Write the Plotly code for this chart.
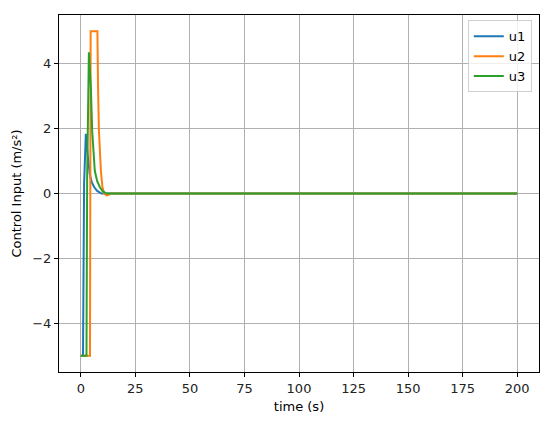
import plotly.graph_objects as go

# control inputs (transient, then flat zero up to 200 s)
t_u1 = [0, 1.0, 1.5, 1.9, 2.3, 3.1, 4.1, 5.0, 6.1, 7.5, 9.5, 200.0]
u1 = [-5, -5, 0.3, 1.5, 1.84, 1.22, 0.6, 0.35, 0.2, 0.08, 0.0, 0.0]

t_u2 = [0, 4.2, 4.5, 7.6, 7.9, 8.3, 9.2, 9.9, 10.7, 11.8, 13.0, 14.0, 200.0]
u2 = [-5, -5, 5, 5, 3.27, 1.94, 0.7, 0.2, 0.0, -0.06, -0.03, 0.0, 0.0]

t_u3 = [0, 2.6, 2.9, 3.3, 3.7, 4.6, 5.2, 6.4, 7.5, 8.7, 10.0, 11.8, 200.0]
u3 = [-5, -5, 0.5, 3.0, 4.35, 3.27, 1.94, 0.7, 0.38, 0.2, 0.07, 0.0, 0.0]

x_ticks = [0, 25, 50, 75, 100, 125, 150, 175, 200]
y_ticks = [-4, -2, 0, 2, 4]

fig = go.Figure()
fig.add_trace(go.Scatter(x=t_u1, y=u1, mode="lines", name="u1",
                         line=dict(color="#1f77b4", width=2)))
fig.add_trace(go.Scatter(x=t_u2, y=u2, mode="lines", name="u2",
                         line=dict(color="#ff7f0e", width=2)))
fig.add_trace(go.Scatter(x=t_u3, y=u3, mode="lines", name="u3",
                         line=dict(color="#2ca02c", width=2)))

axis_style = dict(
    showline=True, linecolor="black", linewidth=1, mirror=True,
    showgrid=True, gridcolor="#b0b0b0", gridwidth=1, zeroline=False,
    ticks="outside", ticklen=4, tickcolor="black", automargin=False,
    tickfont=dict(size=13, color="#222"),
)

# page body keeps an 8px margin, so the figure is 8px smaller each way
fig.update_layout(
    width=542, height=413,
    paper_bgcolor="white", plot_bgcolor="white",
    font=dict(family="DejaVu Sans", size=13, color="black"),
    margin=dict(l=51, r=11, t=7, b=49),
    xaxis=dict(range=[-10, 210], tickvals=x_ticks,
               title=dict(text="time (s)", font=dict(size=13), standoff=7),
               **axis_style),
    yaxis=dict(range=[-5.5, 5.5], tickvals=y_ticks,
               title=dict(text="Control Input (m/s²)", font=dict(size=13), standoff=7),
               **axis_style),
    legend=dict(x=0.985, y=0.985, xanchor="right", yanchor="top",
                bgcolor="rgba(255,255,255,0.8)", bordercolor="#d0d0d0", borderwidth=1,
                font=dict(size=13)),
    showlegend=True,
)

fig.write_html("out.html")
